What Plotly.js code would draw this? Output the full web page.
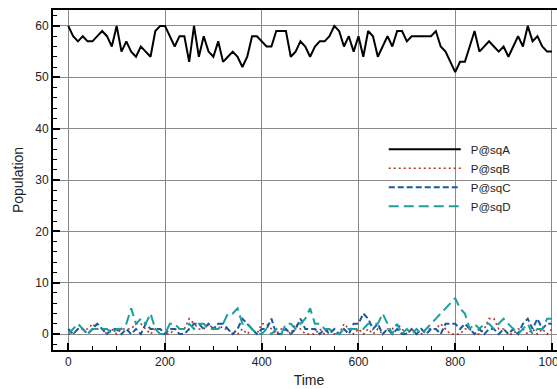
<!DOCTYPE html>
<html>
<head>
<meta charset="utf-8">
<script src="https://cdn.plot.ly/plotly-3.0.1.min.js"></script>
<style>
html,body{margin:0;padding:0;overflow:hidden;background:#fff;}
#chart{width:575px;height:389px;}
</style>
</head>
<body>
<div id="chart"></div>
<script>
var time = [0,10,20,30,40,50,60,70,80,90,100,110,120,130,140,150,160,170,180,190,
200,210,220,230,240,250,260,270,280,290,300,310,320,330,340,350,360,370,380,390,
400,410,420,430,440,450,460,470,480,490,500,510,520,530,540,550,560,570,580,590,
600,610,620,630,640,650,660,670,680,690,700,710,720,730,740,750,760,770,780,790,
800,810,820,830,840,850,860,870,880,890,900,910,920,930,940,950,960,970,980,990,1000];

var sqA = [60,58,57,58,57,57,58,59,58,56,
60,55,57,55,54,56,55,54,59,60,
60,58,56,58,58,53,60,54,58,55,
54,57,53,54,55,54,52,54,58,58,
57,56,56,59,59,59,54,55,57,56,
54,56,57,57,58,60,59,56,58,55,
58,54,59,58,54,56,58,56,59,59,
57,58,58,58,58,58,59,56,55,53,
51,53,53,56,59,55,56,57,56,55,
56,54,56,58,56,60,57,58,56,55,55];

var sqB = [0,0,1,1,1,2,1,1,0,1,
0,1,1,1,2,2,1,0,1,0,
0,0,1,1,1,3,2,1,1,2,
1,2,1,1,0,0,1,0,1,0,
2,2,1,0,1,1,0,2,1,0,
0,0,1,0,1,0,0,2,1,0,
1,0,1,0,1,0,1,1,2,1,
0,1,0,0,1,1,1,2,1,0,
0,0,1,1,0,0,1,3,3,1,
1,0,0,1,1,0,1,0,1,0,1];

var sqC = [1,0,1,1,0,1,2,1,0,1,
1,0,1,0,1,0,2,1,1,1,
0,1,1,0,0,1,2,2,1,2,
1,2,2,1,0,1,3,2,1,0,
1,1,3,0,0,1,0,1,3,1,
1,1,0,1,0,1,0,1,0,2,
2,4,3,1,2,0,1,0,1,0,
0,1,0,1,0,1,1,0,2,2,
2,1,2,1,0,1,0,1,1,0,
1,0,1,0,2,3,1,3,1,2,2];

var sqD = [0,1,2,1,0,1,1,1,1,0,
1,1,2,5,2,3,2,4,1,0,
0,2,2,1,1,2,1,2,2,1,
1,1,2,4,4,5,2,2,1,0,
0,1,0,1,0,2,2,1,2,3,
5,2,2,1,1,0,0,1,1,1,
1,1,2,2,2,4,2,0,2,0,
1,0,1,0,1,2,3,4,5,6,
7,5,4,1,2,1,2,2,1,2,
3,2,1,0,1,2,0,1,1,3,3];

var seriesNames = ['P@sqA','P@sqB','P@sqC','P@sqD'];
var xTicks = [0,200,400,600,800,1000];
var yTicks = [0,10,20,30,40,50,60];

var font = 'Liberation Sans, Arial, Helvetica, sans-serif';

var traces = [
  {x: time, y: sqA, name: seriesNames[0], mode: 'lines',
   line: {color: '#000000', width: 2}},
  {x: time, y: sqB, name: seriesNames[1], mode: 'lines',
   line: {color: '#b0342a', width: 1.6, dash: '2px,3px'}},
  {x: time, y: sqC, name: seriesNames[2], mode: 'lines',
   line: {color: '#1c5a9c', width: 2, dash: '6px,3px'}},
  {x: time, y: sqD, name: seriesNames[3], mode: 'lines',
   line: {color: '#1e9e9c', width: 2, dash: '10px,5px'}}
];

var axisCommon = {
  showline: true, linecolor: '#000', linewidth: 2, mirror: true,
  showgrid: true, gridcolor: '#8a8a8a', gridwidth: 1,
  zeroline: false,
  ticks: 'inside', ticklen: 7, tickwidth: 2, tickcolor: '#000',
  tickfont: {family: font, size: 12, color: '#222'}
};

var layout = {
  width: 575, height: 389,
  margin: {l: 53, r: 10, t: 10, b: 39},
  paper_bgcolor: '#fff', plot_bgcolor: '#fff',
  showlegend: true,
  legend: {
    x: 0.646, y: 0.633, xanchor: 'left', yanchor: 'top',
    bgcolor: 'rgba(0,0,0,0)', borderwidth: 0,
    itemwidth: 77, tracegroupgap: 0,
    font: {family: font, size: 11.5, color: '#222'}
  },
  xaxis: Object.assign({}, axisCommon, {
    range: [-31.6, 1027],
    tickmode: 'array', tickvals: xTicks, ticktext: xTicks.map(String),
    minor: {dtick: 50, tick0: 0, ticks: 'inside', ticklen: 4, tickwidth: 1, tickcolor: '#000', showgrid: false},
    title: {text: 'Time', font: {family: font, size: 14, color: '#222'}, standoff: 7}
  }),
  yaxis: Object.assign({}, axisCommon, {
    range: [-3.1, 63.1],
    tickmode: 'array', tickvals: yTicks, ticktext: yTicks.map(String),
    minor: {dtick: 2, tick0: 0, ticks: 'inside', ticklen: 4, tickwidth: 1, tickcolor: '#000', showgrid: false},
    title: {text: 'Population', font: {family: font, size: 14, color: '#222'}, standoff: 8}
  })
};

Plotly.newPlot('chart', traces, layout, {displayModeBar: false, staticPlot: true}).then(function(gd){
  var paths = gd.querySelectorAll('.legend .traces .legendlines path');
  paths.forEach(function(p){ p.setAttribute('d', 'M5,0h72'); });
});
</script>
</body>
</html>
